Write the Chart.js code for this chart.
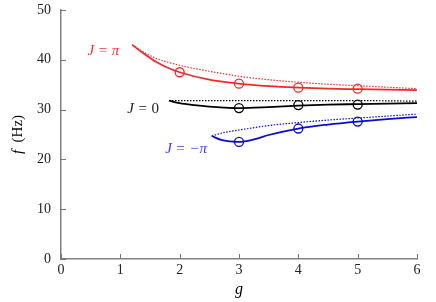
<!DOCTYPE html>
<html><head><meta charset="utf-8">
<script src="https://cdn.jsdelivr.net/npm/chart.js@4/dist/chart.umd.min.js"></script>
<style>html,body{margin:0;padding:0;background:#fff}#wrap{width:436px;height:302px}</style>
</head><body><div id="wrap"><canvas id="c" width="436" height="302"></canvas></div>
<script>
// ---- data ----
const redSolidG   = [1.2, 1.4, 1.6, 1.8, 2.0, 2.5, 3.0, 3.5, 4.0, 4.5, 5.0, 5.5, 6.0];
const redSolidF   = [43.0, 41.2, 39.6, 38.4, 37.5, 36.0, 35.2, 34.7, 34.4, 34.2, 34.1, 34.0, 33.9];
const redDotG     = [1.2, 1.4, 1.6, 2.0, 2.5, 3.0, 3.5, 4.0, 4.5, 5.0, 5.5, 6.0];
const redDotF     = [43.0, 41.5, 40.3, 38.9, 37.7, 36.7, 36.0, 35.5, 35.1, 34.8, 34.5, 34.2];
const redCircG    = [2, 3, 4, 5];
const redCircF    = [37.5, 35.2, 34.4, 34.2];

const blackSolidG = [1.82, 2.0, 2.25, 2.5, 2.75, 3.0, 3.5, 4.0, 4.5, 5.0, 5.5, 6.0];
const blackSolidF = [31.8, 31.3, 30.9, 30.6, 30.4, 30.3, 30.5, 30.8, 31.0, 31.1, 31.2, 31.3];
const blackDotG   = [1.82, 3.0, 4.0, 5.0, 6.0];
const blackDotF   = [31.8, 31.8, 31.8, 31.8, 31.7];
const blackCircG  = [3, 4, 5];
const blackCircF  = [30.3, 30.9, 31.0];

const blueSolidG  = [2.54, 2.7, 2.85, 3.0, 3.25, 3.5, 4.0, 4.5, 5.0, 5.5, 6.0];
const blueSolidF  = [24.7, 23.9, 23.6, 23.5, 24.0, 24.9, 26.2, 27.0, 27.6, 28.1, 28.5];
const blueDotG    = [2.54, 2.75, 3.0, 3.5, 4.0, 4.5, 5.0, 5.5, 6.0];
const blueDotF    = [24.7, 25.4, 25.9, 26.8, 27.4, 27.9, 28.3, 28.7, 29.1];
const blueCircG   = [3, 4, 5];
const blueCircF   = [23.5, 26.2, 27.6];

const xTicks = [0, 1, 2, 3, 4, 5, 6];
const yTicks = [0, 10, 20, 30, 40, 50];

// label anchors (right edge, vertical centre) in data units
const labelTexts = [
  {parts: [['J','i'],['=','n'],['π','i']], g: 0.98, f: 41.8, color: '#f03030'},
  {parts: [['J','i'],['=','n'],['0','n']], g: 1.65, f: 30.1, color: '#222'},
  {parts: [['J','i'],['=','n'],['−π','i']], g: 2.46, f: 22.0, color: '#3a3aee'}
];

const RED = '#f02a2a', BLACK = '#000000', BLUE = '#0a0ad0';
const FONT = "'Liberation Serif', 'DejaVu Serif', serif";

function pts(xs, ys) { return xs.map((x, i) => ({x: x, y: ys[i]})); }
function line(xs, ys, color, dotted) {
  return {type: 'line', data: pts(xs, ys), borderColor: color, borderWidth: dotted ? 1.2 : 1.8,
    borderDash: dotted ? [1.5, 1.5] : [], pointRadius: 0, tension: 0.4, cubicInterpolationMode: 'monotone', fill: false};
}
function circ(xs, ys, color) {
  return {type: 'scatter', data: pts(xs, ys), borderColor: color, backgroundColor: 'rgba(0,0,0,0)',
    pointRadius: 4.5, pointBorderWidth: 1.3, showLine: false};
}

const decor = {
  id: 'decor',
  afterDraw(chart) {
    const ctx = chart.ctx, xs = chart.scales.x, ys = chart.scales.y;
    const axisX = xs.getPixelForValue(0), axisY = ys.getPixelForValue(0);
    ctx.save();
    ctx.strokeStyle = '#777'; ctx.lineWidth = 1;
    xTicks.forEach(v => { const p = Math.round(xs.getPixelForValue(v)) + 0.5; ctx.beginPath(); ctx.moveTo(p, axisY); ctx.lineTo(p, axisY - 5); ctx.stroke(); });
    yTicks.forEach(v => { const p = Math.round(ys.getPixelForValue(v)) + 0.5; ctx.beginPath(); ctx.moveTo(axisX, p); ctx.lineTo(axisX + 5, p); ctx.stroke(); });
    // labels
    ctx.textBaseline = 'middle';
    const GAP = 4.5;
    labelTexts.forEach(l => {
      const widths = l.parts.map(p => { ctx.font = (p[1] === 'i' ? 'italic ' : '') + '15px ' + FONT; return ctx.measureText(p[0]).width; });
      const total = widths.reduce((a, b) => a + b, 0) + GAP * (l.parts.length - 1);
      let x = xs.getPixelForValue(l.g) - total;
      const y = ys.getPixelForValue(l.f);
      ctx.fillStyle = l.color; ctx.textAlign = 'left';
      l.parts.forEach((p, i) => { ctx.font = (p[1] === 'i' ? 'italic ' : '') + '15px ' + FONT; ctx.fillText(p[0], x, y); x += widths[i] + GAP; });
    });
    // axis titles
    ctx.fillStyle = '#000';
    ctx.font = 'italic 16px ' + FONT; ctx.textAlign = 'center';
    ctx.fillText('g', (xs.left + xs.right) / 2, 290);
    ctx.translate(18, (ys.top + ys.bottom) / 2);
    ctx.rotate(-Math.PI / 2);
    ctx.font = 'italic 15px ' + FONT;
    const w1 = ctx.measureText('f').width;
    ctx.font = '15px ' + FONT;
    const w2 = ctx.measureText('  (Hz)').width;
    let sx = -(w1 + w2) / 2;
    ctx.textAlign = 'left';
    ctx.font = 'italic 15px ' + FONT; ctx.fillText('f', sx, 0);
    ctx.font = '15px ' + FONT; ctx.fillText('  (Hz)', sx + w1, 0);
    ctx.restore();
  }
};

new Chart(document.getElementById('c'), {
  data: {datasets: [
    line(redDotG, redDotF, RED, true), line(redSolidG, redSolidF, RED, false), circ(redCircG, redCircF, RED),
    line(blackDotG, blackDotF, BLACK, true), line(blackSolidG, blackSolidF, BLACK, false), circ(blackCircG, blackCircF, BLACK),
    line(blueDotG, blueDotF, BLUE, true), line(blueSolidG, blueSolidF, BLUE, false), circ(blueCircG, blueCircF, BLUE)
  ]},
  options: {
    responsive: false, animation: false,
    layout: {padding: {left: 0, right: 19, top: 10, bottom: 0}},
    plugins: {legend: {display: false}, tooltip: {enabled: false}},
    scales: {
      x: {type: 'linear', min: 0, max: 6,
        afterFit(s) { s.height = 43; s.paddingLeft = 0; s.paddingRight = 0; },
        afterBuildTicks(s) { s.ticks = xTicks.map(v => ({value: v})); },
        grid: {display: false, drawTicks: false},
        border: {display: true, color: '#808080', width: 1.5},
        ticks: {color: '#222', font: {family: FONT, size: 14}, padding: 3, maxRotation: 0}},
      y: {type: 'linear', min: 0, max: 50,
        afterFit(s) { s.width = 61; s.paddingTop = 0; s.paddingBottom = 0; },
        afterBuildTicks(s) { s.ticks = yTicks.map(v => ({value: v})); },
        grid: {display: false, drawTicks: false},
        border: {display: true, color: '#808080', width: 1.5},
        ticks: {color: '#222', font: {family: FONT, size: 14}, padding: 10}}
    }
  },
  plugins: [decor]
});
</script></body></html>
